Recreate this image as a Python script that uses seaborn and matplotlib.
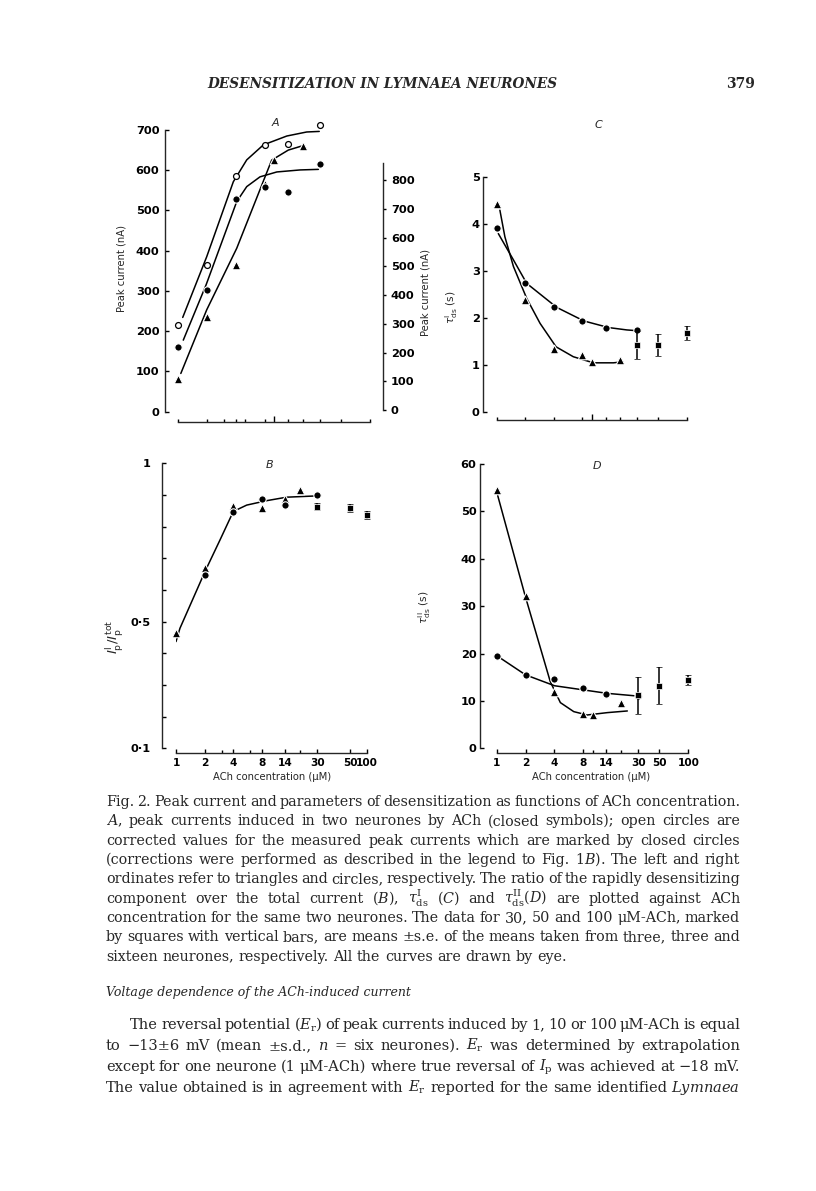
import matplotlib
matplotlib.use("Agg")
import numpy as np
import matplotlib.pyplot as plt
import seaborn as sns

W, H = 816, 1191

# ------------------------------------------------------------
# data (ACh concentration in uM)
# ------------------------------------------------------------
conc_sq = [30, 50, 100]

# A - peak current (nA); triangles -> left ordinate, circles -> right
a_tri_x = [1, 2, 4, 8, 10, 20]
a_tri = [80, 235, 365, 565, 625, 660]
a_circ_x = [1, 2, 4, 8, 14, 30]
a_closed = [218, 417, 733, 775, 759, 855]
a_open = [296, 504, 814, 922, 925, 991]
a_tri_cx = [1.07, 1.99, 4.09, 9.46, 14.1, 19.4]
a_tri_cy = [95, 253, 406, 625, 650, 660]
a_closed_cx = [1.135, 1.96, 4.09, 5.2, 7.15, 10.7, 18.7, 29.0]
a_closed_cy = [243, 435, 725, 777, 811, 828, 835, 837]
a_open_cx = [1.12, 1.99, 3.77, 5.2, 7.74, 13.6, 21.9, 29.6]
a_open_cy = [322, 533, 794, 870, 922, 953, 967, 969]

# B - Ip(I) / Ip(tot)
b_tri_x = [1, 2, 4, 8, 14, 20]
b_tri = [0.465, 0.668, 0.865, 0.858, 0.886, 0.916]
b_circ_x = [2, 4, 8, 14, 30]
b_circ = [0.647, 0.845, 0.886, 0.868, 0.900]
b_sq = [0.863, 0.858, 0.837]
b_sq_err = [0.012, 0.012, 0.012]
b_cx = [1, 1.1, 2.01, 2.89, 3.83, 4.32, 5.5, 8.9, 14.4, 29.6]
b_cy = [0.437, 0.479, 0.658, 0.758, 0.837, 0.853, 0.868, 0.882, 0.893, 0.897]

# C - tau I ds (s)
c_tri_x = [1, 2, 4, 8, 10, 20]
c_tri = [4.43, 2.38, 1.33, 1.21, 1.05, 1.09]
c_circ_x = [1, 2, 4, 8, 14, 30]
c_circ = [3.91, 2.73, 2.23, 1.93, 1.79, 1.73]
c_sq = [1.42, 1.42, 1.67]
c_sq_err = [0.30, 0.23, 0.15]
c_tri_cx = [1.08, 1.22, 1.5, 2.07, 2.86, 4.22, 6.4, 10.4, 16.9, 21.2]
c_tri_cy = [4.29, 3.72, 3.09, 2.41, 1.88, 1.38, 1.17, 1.04, 1.04, 1.06]
c_circ_cx = [1.04, 1.5, 2.07, 4.28, 8.3, 15.1, 23.4, 31.7]
c_circ_cy = [3.79, 3.23, 2.73, 2.22, 1.93, 1.79, 1.74, 1.72]

# D - tau II ds (s)
d_tri_x = [1, 2, 4, 8, 10, 20]
d_tri = [54.5, 32.2, 11.8, 7.2, 7.0, 9.6]
d_circ_x = [1, 2, 4, 8, 14, 30]
d_circ = [19.5, 15.5, 14.6, 12.7, 11.5, 11.0]
d_sq = [11.2, 13.2, 14.4]
d_sq_err = [3.9, 3.9, 1.0]
d_tri_cx = [1.01, 1.98, 3.62, 4.62, 6.37, 8.8, 14.3, 23.1]
d_tri_cy = [53.8, 32.2, 14.1, 9.64, 7.74, 7.03, 7.53, 7.88]
d_circ_cx = [1.01, 2.0, 4.02, 8.2, 14.2, 30.5]
d_circ_cy = [19.5, 15.5, 13.2, 12.3, 11.6, 11.0]

conc_labels = [1, 2, 4, 8, 14, 30, 50, 100]

sns.set_theme(style="ticks")
plt.rcParams.update({
    "font.family": ["DejaVu Sans"],
    "mathtext.fontset": "dejavusans",
    "axes.linewidth": 1.0,
    "lines.linewidth": 1.1,
    "xtick.direction": "in",
    "ytick.direction": "in",
    "xtick.color": "black",
    "ytick.color": "black",
})

fig = plt.figure(figsize=(W / 100, H / 100), dpi=100)
fig.patch.set_facecolor("white")
renderer = fig.canvas.get_renderer()

PT = 0.72  # px -> pt at 100 dpi
YTICK_FS = 8.2
XTICK_FS = 7.6
LAB_FS = 7.2
TRI_S = 38


def px_axes(left, top, right, bottom):
    return fig.add_axes([left / W, 1 - bottom / H, (right - left) / W, (bottom - top) / H])


def conc_scale(ax, p50=np.log10(50)):
    xs = [-1, 0, np.log10(30), np.log10(50), 2, 3]
    ps = [-1, 0, np.log10(30), p50, 2, 3]
    fwd = lambda c: np.interp(np.log10(np.clip(c, 1e-9, None)), xs, ps)
    inv = lambda p: 10 ** np.interp(p, ps, xs)
    ax.set_xscale("function", functions=(fwd, inv))
    ax.set_xlim(1, 100)


def style(ax, left_off, bottom_off):
    sns.despine(ax=ax, offset={"left": left_off * PT, "bottom": bottom_off * PT})
    ax.set_facecolor("none")
    ax.tick_params(which="both", direction="in", width=1.0, color="black")
    ax.tick_params(which="major", length=4 * PT)
    ax.tick_params(which="minor", length=3 * PT)
    ax.spines["bottom"].set_bounds(1, 100)


def dots(ax, x, y, marker, s, hollow=False):
    if hollow:
        sns.scatterplot(x=x, y=y, marker=marker, s=s, color="white", edgecolor="black",
                        linewidth=0.9, ax=ax, zorder=4, clip_on=False)
    else:
        sns.scatterplot(x=x, y=y, marker=marker, s=s, color="black", edgecolor="white",
                        linewidth=0.8, ax=ax, zorder=4, clip_on=False)


def curve(ax, x, y):
    sns.lineplot(x=x, y=y, color="black", lw=1.1, sort=False, estimator=None, ax=ax, zorder=2)


def squares(ax, y, err):
    ax.errorbar(conc_sq, y, yerr=err, fmt="s", color="black", ms=4.8, mec="white", mew=0.5,
                capsize=2.3, elinewidth=1.1, capthick=1.1, clip_on=False, zorder=5)


def unlabeled_x(ax, minor, tall=(10,)):
    ax.set_xticks(list(tall))
    ax.set_xticklabels([])
    ax.set_xticks(minor, minor=True)
    ax.set_xticklabels([], minor=True)
    ax.tick_params(axis="x", which="major", length=6 * PT)


def labeled_x(ax, minor, pad=3.5):
    ax.set_xticks(conc_labels, labels=[str(c) for c in conc_labels],
                  fontsize=XTICK_FS, fontweight="bold")
    ax.set_xticks(minor, minor=True)
    ax.set_xticklabels([], minor=True)
    ax.tick_params(axis="x", which="major", pad=pad)


def ftext(x, y, s, **kw):
    return fig.text(x / W, 1 - y / H, s, **kw)


# ------------------------------------------------------------
# A
# ------------------------------------------------------------
axA = px_axes(178, 120, 370, 411.7)
conc_scale(axA)
axA.set_ylim(0, 724.7)
style(axA, 13, 10)
axA.spines["left"].set_bounds(0, 700)
axA.set_yticks(range(0, 701, 100), labels=[str(v) for v in range(0, 701, 100)],
               fontsize=YTICK_FS, fontweight="bold")
axA.tick_params(axis="y", pad=4)
unlabeled_x(axA, [1, 2, 3, 4, 5, 8, 14, 20, 30, 50, 100])
curve(axA, a_tri_cx, a_tri_cy)
dots(axA, a_tri_x, a_tri, "^", TRI_S)

axA2 = axA.twinx()
axA2.set_xlim(1, 100)
axA2.set_ylim(-5.9, 1008.7)
for side in ("top", "left", "bottom"):
    axA2.spines[side].set_visible(False)
axA2.spines["right"].set_position(("outward", 13 * PT))
axA2.spines["right"].set_bounds(0, 860)
axA2.set_yticks(range(0, 801, 100), labels=[str(v) for v in range(0, 801, 100)],
                fontsize=YTICK_FS, fontweight="bold")
axA2.tick_params(axis="y", direction="out", length=3 * PT, width=1.0, pad=3.5)
curve(axA2, a_closed_cx, a_closed_cy)
curve(axA2, a_open_cx, a_open_cy)
dots(axA2, a_circ_x, a_closed, "o", 28)
dots(axA2, a_circ_x, a_open, "o", 18, hollow=True)
axA2.set_xlim(1, 100)
axA.set_xlim(1, 100)
for a in (axA, axA2):
    a.set_xlabel("")
    a.set_ylabel("")

# ------------------------------------------------------------
# C
# ------------------------------------------------------------
axC = px_axes(496.7, 170, 686.7, 411.7)
conc_scale(axC)
axC.set_ylim(0, 5.143)
style(axC, 13.4, 8)
axC.spines["left"].set_bounds(0, 5)
axC.set_yticks(range(0, 6), labels=[str(v) for v in range(0, 6)],
               fontsize=YTICK_FS, fontweight="bold")
axC.tick_params(axis="y", pad=2.5)
unlabeled_x(axC, [1, 2, 4, 8, 14, 20, 30, 50, 100])
curve(axC, c_tri_cx, c_tri_cy)
curve(axC, c_circ_cx, c_circ_cy)
dots(axC, c_tri_x, c_tri, "^", TRI_S)
dots(axC, c_circ_x, c_circ, "o", 28)
squares(axC, c_sq, c_sq_err)
axC.set_xlim(1, 100)

# ------------------------------------------------------------
# B
# ------------------------------------------------------------
axB = px_axes(176, 463.3, 367, 748.3)
conc_scale(axB, p50=1.822)
axB.set_ylim(0.1, 1.0)
style(axB, 14.3, 5)
yt = np.round(np.arange(0.1, 1.01, 0.1), 1)
axB.set_yticks(yt, labels=["1" if v == 1.0 else ("0·5" if v == 0.5 else ("0·1" if v == 0.1 else ""))
                           for v in yt], fontsize=YTICK_FS, fontweight="bold")
axB.tick_params(axis="y", pad=8)
labeled_x(axB, [3, 6, 20])
curve(axB, b_cx, b_cy)
dots(axB, b_tri_x, b_tri, "^", TRI_S)
dots(axB, b_circ_x, b_circ, "o", 28)
squares(axB, b_sq, b_sq_err)
axB.set_xlim(1, 100)

# ------------------------------------------------------------
# D
# ------------------------------------------------------------
axD = px_axes(496.7, 464, 688.3, 748.3)
conc_scale(axD)
axD.set_ylim(0, 60)
style(axD, 16.7, 5)
axD.set_yticks(range(0, 61, 10), labels=[str(v) for v in range(0, 61, 10)],
               fontsize=YTICK_FS, fontweight="bold")
axD.tick_params(axis="y", pad=2.5)
labeled_x(axD, [10, 20])
curve(axD, d_tri_cx, d_tri_cy)
curve(axD, d_circ_cx, d_circ_cy)
dots(axD, d_tri_x, d_tri, "^", TRI_S)
dots(axD, d_circ_x, d_circ, "o", 28)
squares(axD, d_sq, d_sq_err)
axD.set_xlim(1, 100)

for a in (axB, axC, axD):
    a.set_xlabel("")
    a.set_ylabel("")

# panel letters and axis titles
for letter, x, y in [("A", 275.7, 123), ("C", 598.3, 125), ("B", 270, 465), ("D", 596.7, 466)]:
    ftext(x, y, letter, fontsize=8, fontstyle="italic", ha="center", va="center")

ftext(122, 268, "Peak current (nA)", fontsize=LAB_FS, rotation=90, ha="center", va="center")
ftext(426, 293, "Peak current (nA)", fontsize=LAB_FS, rotation=90, ha="center", va="center")
ftext(115, 637, r"$I^\mathrm{I}_\mathrm{p}/I^\mathrm{tot}_\mathrm{p}$", fontsize=9.5,
      rotation=90, ha="center", va="center")
ftext(452, 307, r"$\tau^\mathrm{I}_\mathrm{ds}$ (s)", fontsize=LAB_FS + 0.5, rotation=90,
      ha="center", va="center")
ftext(425, 607, r"$\tau^\mathrm{II}_\mathrm{ds}$ (s)", fontsize=LAB_FS + 0.5, rotation=90,
      ha="center", va="center")
ftext(272, 777, "ACh concentration (μM)", fontsize=LAB_FS, ha="center", va="center")
ftext(591, 777, "ACh concentration (μM)", fontsize=LAB_FS, ha="center", va="center")

# ------------------------------------------------------------
# page text
# ------------------------------------------------------------
SERIF = "DejaVu Serif"


def words_of(line):
    out, cur, inmath = [], "", False
    for ch in line:
        if ch == "$":
            inmath = not inmath
        if ch == " " and not inmath:
            out.append(cur)
            cur = ""
        else:
            cur += ch
    out.append(cur)
    return out


def serif(x, yb, s, size, **kw):
    return ftext(x, yb, s, fontsize=size, family=SERIF, math_fontfamily="dejavuserif",
                 va="baseline", **kw)


def widths_of(words, size):
    res = []
    for w in words:
        t = serif(0, 0, w, size, ha="left")
        res.append(t.get_window_extent(renderer).width)
        t.remove()
    return res


def natural(words, size, space=0.318):
    return sum(widths_of(words, size)) + (len(words) - 1) * space * size / PT


def fit_size(lines, spans, s0=9.0, space=0.22):
    # largest size at which every line still fits with a slightly tight word space
    return s0 * min(span / natural(words_of(l), s0, space) for l, span in zip(lines, spans))


def text_line(words, x0, x1, yb, size, justify=True):
    widths = widths_of(words, size)
    if justify and len(words) > 1:
        gap = (x1 - x0 - sum(widths)) / (len(words) - 1)
    else:
        gap = 0.318 * size / PT
    x = x0
    for w, ww in zip(words, widths):
        serif(x, yb, w, size, ha="left")
        x += ww + gap


def fit_text(x, yb, s, width, size, **kw):
    t = serif(x, yb, s, size, **kw)
    w = t.get_window_extent(renderer).width
    t.set_fontsize(size * width / w)
    return t


fit_text(207, 88, "DESENSITIZATION IN LYMNAEA NEURONES", 349, 10,
         fontstyle="italic", fontweight="bold", ha="left")
serif(755, 88, "379", 10, fontweight="bold", ha="right")

caption = [
    "Fig. 2. Peak current and parameters of desensitization as functions of ACh concentration.",
    "$A$, peak currents induced in two neurones by ACh (closed symbols); open circles are",
    "corrected values for the measured peak currents which are marked by closed circles",
    "(corrections were performed as described in the legend to Fig. 1$B$). The left and right",
    "ordinates refer to triangles and circles, respectively. The ratio of the rapidly desensitizing",
    r"component over the total current ($B$), $\tau^\mathrm{I}_\mathrm{ds}$ ($C$) and "
    r"$\tau^\mathrm{II}_\mathrm{ds}$($D$) are plotted against ACh",
    "concentration for the same two neurones. The data for 30, 50 and 100 μM-ACh, marked",
    "by squares with vertical bars, are means ±s.e. of the means taken from three, three and",
    "sixteen neurones, respectively. All the curves are drawn by eye.",
]
cap_y = [806, 825.3, 844.6, 864, 883.3, 902.6, 922, 941.3, 960.6]
cap_size = fit_size(caption[:-1], [634] * (len(caption) - 1))
for i, (line, yb) in enumerate(zip(caption, cap_y)):
    text_line(words_of(line), 106, 740, yb, cap_size, justify=(i < len(caption) - 1))

fit_text(106, 996, "Voltage dependence of the ACh-induced current", 305, 10, fontstyle="italic",
         ha="left")

body = [
    r"The reversal potential ($E_\mathrm{r}$) of peak currents induced by 1, 10 or 100 μM-ACh is equal",
    r"to −13±6 mV (mean ±s.d., $n$ = six neurones). $E_\mathrm{r}$ was determined by extrapolation",
    r"except for one neurone (1 μM-ACh) where true reversal of $I_\mathrm{p}$ was achieved at −18 mV.",
    r"The value obtained is in agreement with $E_\mathrm{r}$ reported for the same identified "
    r"$\mathit{Lymnaea}$",
]
body_y = [1029, 1050, 1071, 1092]
body_x0 = [130, 106, 106, 106]
body_size = fit_size(body, [740 - x for x in body_x0])
for line, yb, x0 in zip(body, body_y, body_x0):
    text_line(words_of(line), x0, 740, yb, body_size)

fig.savefig("out.png", dpi=100, facecolor="white")
